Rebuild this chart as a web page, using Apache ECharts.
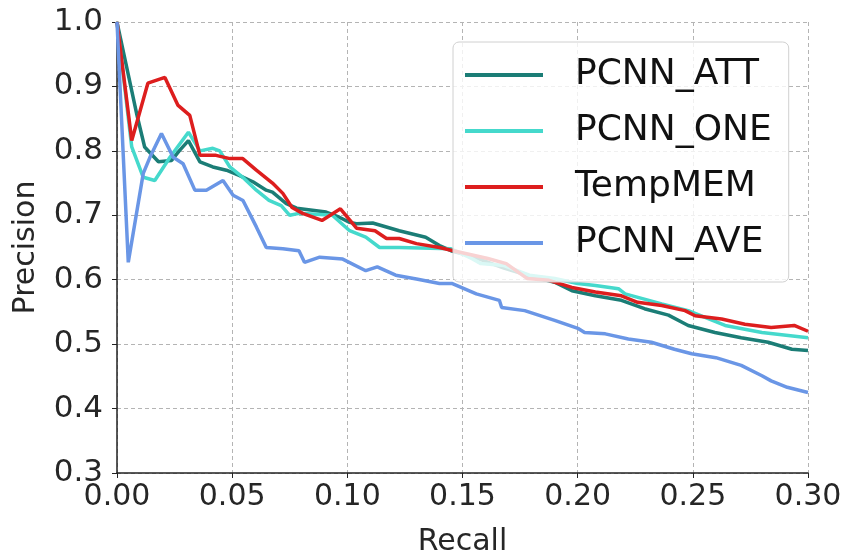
<!DOCTYPE html>
<html>
<head>
<meta charset="utf-8">
<script src="https://cdn.jsdelivr.net/npm/echarts@6/dist/echarts.min.js"></script>
<style>
  html, body { margin: 0; padding: 0; background: #fff; }
  #chart { width: 845px; height: 555px; }
</style>
</head>
<body>
<div id="chart"></div>
<script>
// precision / recall curves as [recall, precision]
var seriesNames = ['PCNN_ATT', 'PCNN_ONE', 'TempMEM', 'PCNN_AVE'];
var seriesColors = ['#1b7d76', '#45d9cc', '#dd1e1e', '#6a96e6'];

var pcnnAtt = [
  [0, 1.0], [0.0042, 0.93], [0.0085, 0.858], [0.012, 0.806], [0.018, 0.783], [0.0237, 0.785],
  [0.027, 0.80], [0.031, 0.816], [0.036, 0.783], [0.0416, 0.775], [0.0475, 0.77], [0.053, 0.762],
  [0.059, 0.752], [0.0648, 0.739], [0.0675, 0.736], [0.0735, 0.718], [0.078, 0.711], [0.0908, 0.705],
  [0.0965, 0.697], [0.101, 0.689], [0.104, 0.687], [0.111, 0.688], [0.1225, 0.676], [0.134, 0.666],
  [0.14, 0.653], [0.145, 0.645], [0.155, 0.635], [0.168, 0.618], [0.18, 0.605], [0.19, 0.596],
  [0.1975, 0.583], [0.2077, 0.575], [0.219, 0.568], [0.229, 0.555], [0.2394, 0.545], [0.248, 0.529],
  [0.2596, 0.518], [0.271, 0.51], [0.2827, 0.503], [0.293, 0.492], [0.30, 0.49]
];
var pcnnOne = [
  [0, 1.0], [0.0064, 0.806], [0.0114, 0.759], [0.0164, 0.754], [0.023, 0.79], [0.031, 0.829],
  [0.036, 0.80], [0.0416, 0.804], [0.0446, 0.80], [0.049, 0.775], [0.0546, 0.759], [0.0605, 0.739],
  [0.066, 0.723], [0.0713, 0.715], [0.075, 0.70], [0.079, 0.703], [0.0935, 0.70], [0.101, 0.676],
  [0.108, 0.666], [0.114, 0.65], [0.1225, 0.65], [0.145, 0.648], [0.154, 0.633], [0.158, 0.625],
  [0.168, 0.622], [0.179, 0.607], [0.19, 0.602], [0.2, 0.594], [0.2077, 0.591], [0.2177, 0.586],
  [0.2206, 0.578], [0.2365, 0.5625], [0.248, 0.552], [0.264, 0.529], [0.28, 0.518], [0.30, 0.51]
];
var tempMem = [
  [0, 1.0], [0.0064, 0.816], [0.0134, 0.905], [0.0208, 0.914], [0.0264, 0.871], [0.0316, 0.855],
  [0.036, 0.793], [0.043, 0.793], [0.049, 0.788], [0.0546, 0.788], [0.0605, 0.77], [0.0675, 0.75],
  [0.072, 0.734], [0.076, 0.712], [0.0806, 0.703], [0.089, 0.692], [0.097, 0.71], [0.104, 0.68],
  [0.112, 0.676], [0.117, 0.664], [0.1225, 0.664], [0.13, 0.656], [0.14, 0.65], [0.146, 0.645],
  [0.161, 0.633], [0.169, 0.625], [0.178, 0.602], [0.1875, 0.599], [0.1975, 0.588], [0.2077, 0.581],
  [0.219, 0.575], [0.226, 0.565], [0.2365, 0.56], [0.2466, 0.552], [0.251, 0.544], [0.2625, 0.539],
  [0.2726, 0.531], [0.284, 0.526], [0.294, 0.529], [0.30, 0.52]
];
var pcnnAve = [
  [0, 1.0], [0.0049, 0.627], [0.0114, 0.765], [0.0143, 0.79], [0.0193, 0.827], [0.0244, 0.79],
  [0.0287, 0.78], [0.0338, 0.739], [0.0388, 0.739], [0.046, 0.754], [0.0504, 0.731], [0.0547, 0.723],
  [0.0605, 0.682], [0.0648, 0.65], [0.072, 0.648], [0.079, 0.645], [0.0814, 0.627], [0.088, 0.635],
  [0.098, 0.632], [0.108, 0.614], [0.113, 0.62], [0.121, 0.607], [0.13, 0.601], [0.14, 0.594],
  [0.1456, 0.594], [0.156, 0.578], [0.166, 0.568], [0.167, 0.557], [0.177, 0.552], [0.19, 0.537],
  [0.2004, 0.524], [0.203, 0.518], [0.212, 0.516], [0.222, 0.508], [0.232, 0.503], [0.242, 0.492],
  [0.2495, 0.485], [0.26, 0.479], [0.271, 0.467], [0.28, 0.451], [0.284, 0.443], [0.291, 0.433],
  [0.30, 0.425]
];
var allData = [pcnnAtt, pcnnOne, tempMem, pcnnAve];

var font = 'DejaVu Sans';
var chart = echarts.init(document.getElementById('chart'));

var gridLine = { show: true, lineStyle: { color: '#b4b4b4', type: [4, 3], width: 1 } };

var option = {
  animation: false,
  grid: { left: 117, right: 37, top: 22, bottom: 82, outerBoundsMode: 'none', containLabel: false },
  legend: {
    data: seriesNames,
    orient: 'vertical',
    left: 453,
    top: 42,
    padding: [12, 17, 18, 12],
    icon: 'rect',
    itemWidth: 78,
    itemHeight: 4,
    itemGap: 14,
    backgroundColor: 'rgba(255,255,255,0.8)',
    borderColor: '#d0d0d0',
    borderWidth: 1,
    borderRadius: 6,
    textStyle: { fontFamily: font, fontSize: 36, color: '#111', lineHeight: 42, padding: [0, 0, 0, 27] }
  },
  xAxis: {
    type: 'value',
    min: 0, max: 0.3, interval: 0.05,
    name: 'Recall', nameLocation: 'middle', nameGap: 54,
    nameTextStyle: { fontFamily: font, fontSize: 30, color: '#262626' },
    axisLine: { onZero: false, lineStyle: { color: '#222', width: 1.5 } },
    axisTick: { show: true, length: 5, lineStyle: { color: '#222' } },
    axisLabel: { fontFamily: font, fontSize: 30, color: '#262626', margin: 9,
      formatter: function (v) { return v.toFixed(2); } },
    splitLine: gridLine
  },
  yAxis: {
    type: 'value',
    min: 0.3, max: 1.0, interval: 0.1,
    name: 'Precision', nameLocation: 'middle', nameGap: 76, nameRotate: 90,
    nameTextStyle: { fontFamily: font, fontSize: 30, color: '#262626' },
    axisLine: { show: true, onZero: false, lineStyle: { color: '#222', width: 1.5 } },
    axisTick: { show: true, length: 5, lineStyle: { color: '#222' } },
    axisLabel: { fontFamily: font, fontSize: 31, color: '#262626', margin: 14,
      formatter: function (v) { return v.toFixed(1); } },
    splitLine: gridLine
  },
  series: seriesNames.map(function (name, i) {
    return {
      name: name,
      type: 'line',
      data: allData[i],
      symbol: 'none',
      color: seriesColors[i],
      lineStyle: { color: seriesColors[i], width: 3.5 }
    };
  })
};

chart.setOption(option);
</script>
</body>
</html>
